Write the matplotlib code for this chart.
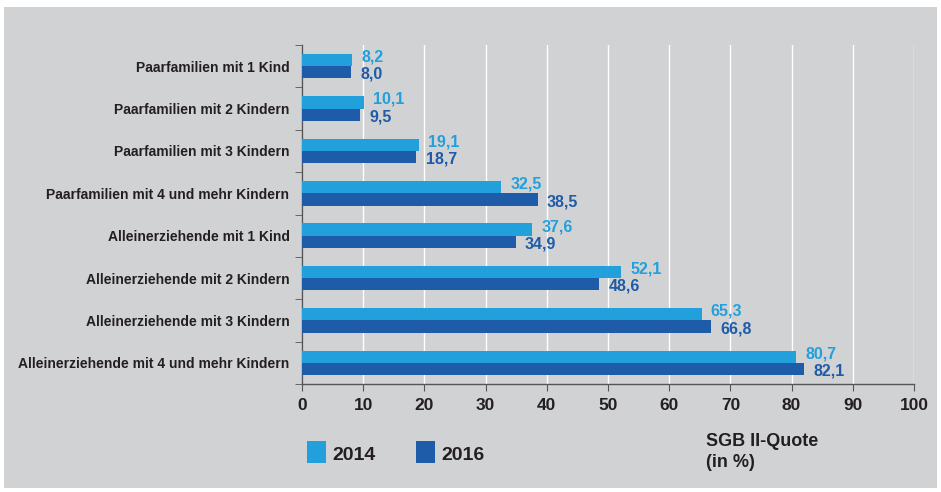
import matplotlib
matplotlib.use('Agg')
import matplotlib.pyplot as plt
from matplotlib.patches import Rectangle
import numpy as np

plt.rcParams['font.family'] = ['Liberation Sans', 'DejaVu Sans']

categories = ['Paarfamilien mit 1 Kind',
              'Paarfamilien mit 2 Kindern',
              'Paarfamilien mit 3 Kindern',
              'Paarfamilien mit 4 und mehr Kindern',
              'Alleinerziehende mit 1 Kind',
              'Alleinerziehende mit 2 Kindern',
              'Alleinerziehende mit 3 Kindern',
              'Alleinerziehende mit 4 und mehr Kindern']
values_2014 = [8.2, 10.1, 19.1, 32.5, 37.6, 52.1, 65.3, 80.7]
values_2016 = [8.0, 9.5, 18.7, 38.5, 34.9, 48.6, 66.8, 82.1]
series_labels = ['2014', '2016']

light = '#22a0dc'
dark = '#1e5ba8'
bg = '#d1d2d4'
txt = '#231f20'

fig = plt.figure(figsize=(9.41, 4.92), dpi=100, facecolor='white')
fig.patches.append(Rectangle((4/941, 4/492), 933/941, 481/492, transform=fig.transFigure,
                             facecolor=bg, edgecolor='none', zorder=-5))
ax = fig.add_axes([302/941, 1-384/492, 612/941, 339/492])
ax.set_facecolor(bg)

y = np.arange(len(categories))
h = 0.29
ax.barh(y - h/2, values_2014, h, color=light, zorder=3)
ax.barh(y + h/2, values_2016, h, color=dark, zorder=3)

def fmt(v):
    return ('%.1f' % v).replace('.', ',')

for yi, v in zip(y, values_2014):
    ax.text(v + 1.5, yi - h/2 - 0.07, fmt(v), color=light, fontsize=11.5, fontweight='bold',
            va='center', ha='left', zorder=4)
for yi, v in zip(y, values_2016):
    ax.text(v + 1.5, yi + h/2 + 0.05, fmt(v), color=dark, fontsize=11.5, fontweight='bold',
            va='center', ha='left', zorder=4)

ax.set_xlim(0, 100)
ax.set_ylim(len(categories) - 0.5, -0.5)
ax.set_xticks(np.arange(0, 101, 10))
ax.set_xticklabels([str(t) for t in range(0, 101, 10)], fontsize=12.5,
                   fontweight='bold', color=txt)
ax.set_yticks(y)
ax.set_yticklabels(categories, fontsize=10, fontweight='bold', color=txt)
ax.tick_params(axis='y', length=0, pad=9)
ax.set_yticks(np.arange(-0.5, len(categories), 1), minor=True)
ax.tick_params(axis='y', which='minor', length=5, color='#555555')
ax.tick_params(axis='x', length=5, color='#555555', pad=5)

for s in ['top', 'right']:
    ax.spines[s].set_visible(False)
for s in ['left', 'bottom']:
    ax.spines[s].set_color('#555555')
    ax.spines[s].set_linewidth(1)
ax.xaxis.grid(True, color='white', linewidth=1, zorder=1)
ax.set_axisbelow(True)

# legend
fig.patches.append(Rectangle((307/941, 1-463/492), 19/941, 22/492, transform=fig.transFigure,
                             facecolor=light, edgecolor='none'))
fig.text(332/941, 1-456/492, series_labels[0], fontsize=14, fontweight='bold', color=txt, va='center')
fig.patches.append(Rectangle((416/941, 1-463/492), 19/941, 22/492, transform=fig.transFigure,
                             facecolor=dark, edgecolor='none'))
fig.text(441/941, 1-456/492, series_labels[1], fontsize=14, fontweight='bold', color=txt, va='center')
fig.text(706/941, 1-452/492, 'SGB II-Quote\n(in %)', fontsize=13, fontweight='bold',
         color=txt, va='center', ha='left', linespacing=1.3)

fig.savefig('out.png', dpi=100, facecolor=fig.get_facecolor())
